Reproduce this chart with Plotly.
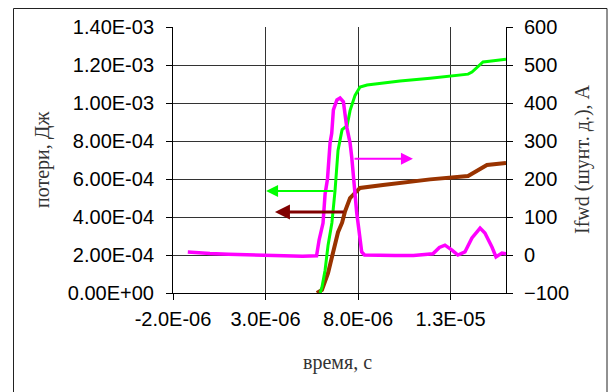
import numpy as np
import plotly.graph_objects as go

# ---- data (time in microseconds, converted to seconds below) ----
ifwd_t_us = [-1.2, -0.5, 0.0, 1.0, 2.0, 3.0, 4.0, 5.0, 5.5, 5.76, 5.9, 6.11, 6.22, 6.35,
             6.49, 6.58, 6.67, 6.86, 7.03, 7.21, 7.39, 7.57, 7.66, 7.73, 7.84, 7.93, 8.05,
             8.2, 8.35, 9.0, 10.0, 11.0, 12.05, 12.4, 12.7, 13.08, 13.4, 13.78, 14.16,
             14.6, 14.86, 15.24, 15.46, 15.78, 16.0]
ifwd_a = [8, 7, 4, 2, 0, -1, -2, -3, -3, -2, 40, 84, 160, 200,
          295, 320, 382, 408, 413, 403, 337, 295, 258, 216, 153, 111, 66,
          8, 0, -1, -1, -1, 3, 20, 26, 13, 0, 8, 45,
          71, 58, 21, -5, 5, 3]

loss_green_t_us = [5.95, 6.05, 6.22, 6.38, 6.59, 6.76, 6.92, 7.14, 7.41, 7.57, 7.84, 8.11,
                   8.49, 9.3, 10.27, 11.9, 13.95, 14.16, 14.49, 14.76, 15.1, 16.0]
loss_green_j = [0.0, 0.03e-3, 0.12e-3, 0.25e-3, 0.37e-3, 0.54e-3, 0.75e-3, 0.86e-3, 0.88e-3,
                0.96e-3, 1.04e-3, 1.084e-3, 1.095e-3, 1.105e-3, 1.116e-3, 1.13e-3, 1.152e-3,
                1.163e-3, 1.195e-3, 1.216e-3, 1.22e-3, 1.23e-3]

loss_brown_t_us = [5.78, 6.05, 6.38, 6.65, 6.92, 7.14, 7.3, 7.57, 7.84, 8.11, 9.35, 10.27,
                   11.9, 13.95, 14.3, 14.7, 14.97, 16.0]
loss_brown_j = [0.0, 0.016e-3, 0.105e-3, 0.21e-3, 0.32e-3, 0.37e-3, 0.43e-3, 0.50e-3, 0.53e-3,
                0.553e-3, 0.568e-3, 0.579e-3, 0.598e-3, 0.616e-3, 0.637e-3, 0.663e-3,
                0.674e-3, 0.684e-3]

x_tickvals = [-2e-6, 3e-6, 8e-6, 13e-6]
x_ticktext = ["-2.0E-06", "3.0E-06", "8.0E-06", "1.3E-05"]
y1_tickvals = [0, 2e-4, 4e-4, 6e-4, 8e-4, 1e-3, 1.2e-3, 1.4e-3]
y1_ticktext = ["0.00E+00", "2.00E-04", "4.00E-04", "6.00E-04", "8.00E-04",
               "1.00E-03", "1.20E-03", "1.40E-03"]
y2_tickvals = [-100, 0, 100, 200, 300, 400, 500, 600]

GREEN = "#00FF00"
BROWN = "#993300"
MAGENTA = "#FF00FF"
DARKRED = "#800000"

us = 1e-6
fig = go.Figure()
fig.add_trace(go.Scatter(x=np.array(ifwd_t_us) * us, y=ifwd_a, yaxis="y2", mode="lines",
                         line=dict(color=MAGENTA, width=3.5), showlegend=False))
fig.add_trace(go.Scatter(x=np.array(loss_brown_t_us) * us, y=loss_brown_j, mode="lines",
                         line=dict(color=BROWN, width=4), showlegend=False))
fig.add_trace(go.Scatter(x=np.array(loss_green_t_us) * us, y=loss_green_j, mode="lines",
                         line=dict(color=GREEN, width=3), showlegend=False))

tick_font = dict(family="Liberation Sans, Arial, sans-serif", size=20, color="black")
title_font = dict(family="Liberation Serif, Times New Roman, serif", size=20, color="#333")

L, R, T, B = 173, 108, 27, 99
W, H = 614, 392
pw, ph = W - L - R, H - T - B


def px(xp):
    return (xp - L) / pw


def py(yp):
    return (H - B - yp) / ph


fig.update_layout(
    width=W, height=H,
    margin=dict(l=L, r=R, t=T, b=B, autoexpand=False),
    paper_bgcolor="white", plot_bgcolor="white",
    xaxis=dict(range=[-2e-6, 16e-6], tickvals=x_tickvals, ticktext=x_ticktext,
               showgrid=True, gridcolor="#333", gridwidth=1, zeroline=False,
               showline=True, linecolor="black", linewidth=1,
               ticks="outside", ticklen=6, tickcolor="black", tickfont=tick_font,
               ticklabelstandoff=2),
    yaxis=dict(range=[0, 1.4e-3], tickvals=y1_tickvals, ticktext=y1_ticktext,
               showgrid=True, gridcolor="#333", gridwidth=1, zeroline=False,
               showline=True, linecolor="black", linewidth=1,
               ticks="outside", ticklen=6, tickcolor="black", tickfont=tick_font,
               ticklabelstandoff=8),
    yaxis2=dict(range=[-100, 600], tickvals=y2_tickvals, overlaying="y", side="right",
                showgrid=False, zeroline=False, showline=True, linecolor="black",
                linewidth=1, ticks="outside", ticklen=6, tickcolor="black",
                tickfont=tick_font, ticklabelstandoff=7),
)

# outer chart frame
fig.add_shape(type="rect", xref="paper", yref="paper",
              x0=px(13.5), x1=px(607), y0=py(400), y1=py(8.5),
              line=dict(color="#222", width=1), layer="below")

# arrows pointing to each curve's axis
fig.add_annotation(x=3.03e-6, y=0.537e-3, ax=6.76e-6, ay=0.537e-3, xref="x", yref="y",
                   axref="x", ayref="y", text="", showarrow=True, arrowhead=2,
                   arrowsize=1.2, arrowwidth=2, arrowcolor=GREEN)
fig.add_annotation(x=3.51e-6, y=0.426e-3, ax=7.3e-6, ay=0.426e-3, xref="x", yref="y",
                   axref="x", ayref="y", text="", showarrow=True, arrowhead=2,
                   arrowsize=1.0, arrowwidth=3, arrowcolor=DARKRED)
fig.add_annotation(x=10.97e-6, y=253, ax=7.73e-6, ay=253, xref="x", yref="y2",
                   axref="x", ayref="y2", text="", showarrow=True, arrowhead=2,
                   arrowsize=1.2, arrowwidth=2, arrowcolor=MAGENTA)

# axis titles
fig.add_annotation(text="потери, Дж", xref="paper", yref="paper", x=px(42), y=py(160),
                   textangle=-90, showarrow=False, font=title_font,
                   xanchor="center", yanchor="middle")
fig.add_annotation(text="Ifwd (шунт. д.), А", xref="paper", yref="paper", x=px(582),
                   y=py(159), textangle=-90, showarrow=False, font=title_font,
                   xanchor="center", yanchor="middle")
fig.add_annotation(text="время, с", xref="paper", yref="paper", x=px(337), y=py(362),
                   showarrow=False, font=title_font, xanchor="center", yanchor="middle")

fig.write_html("out.html")
